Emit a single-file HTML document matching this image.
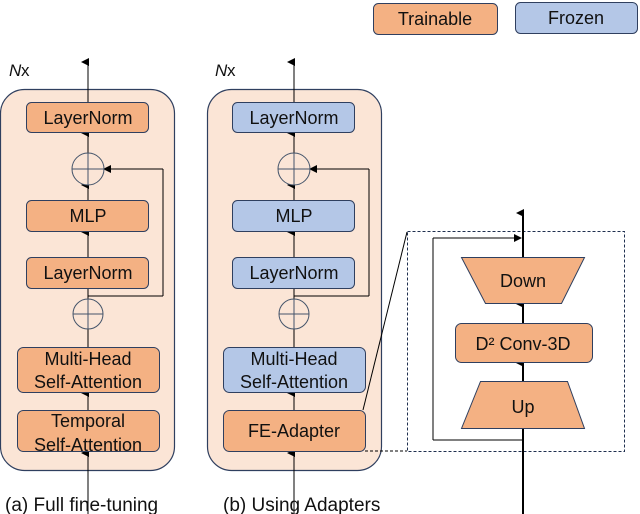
<!DOCTYPE html>
<html><head><meta charset="utf-8"><style>
html,body{margin:0;padding:0;background:#fff;width:640px;height:514px;overflow:hidden}
text{font-family:"Liberation Sans",sans-serif;fill:#111}
</style></head><body>
<svg width="640" height="514" viewBox="0 0 640 514" xmlns="http://www.w3.org/2000/svg">
<defs>
<marker id="a" markerWidth="8" markerHeight="8" refX="4" refY="7" orient="auto" markerUnits="userSpaceOnUse">
<path d="M0,8 L4,0 L8,8 z" fill="#000"/></marker>
<marker id="r" markerWidth="8" markerHeight="8" refX="7" refY="4" orient="auto" markerUnits="userSpaceOnUse">
<path d="M8,4 L0,0 L0,8 z" fill="#000"/></marker>
</defs>
<!-- legend -->
<rect x="373.5" y="3.5" width="124" height="31" rx="5" fill="#f4b183" stroke="#2f3f5f"/>
<text x="435" y="25" font-size="18" text-anchor="middle">Trainable</text>
<rect x="515.5" y="2.5" width="122" height="31" rx="5" fill="#b4c7e7" stroke="#2f3f5f"/>
<text x="576" y="24" font-size="18" text-anchor="middle">Frozen</text>

<g>
<text x="9" y="76" font-size="17" font-style="italic">N</text><text x="21" y="76" font-size="17">x</text>
<rect x="0.5" y="89.5" width="174" height="381" rx="24" fill="#fbe5d6" stroke="#2f3f5f" stroke-width="1.2"/>
<line x1="88" y1="514" x2="88" y2="453" stroke="#000" marker-end="url(#a)"/>
<line x1="88" y1="410" x2="88" y2="393" stroke="#000" marker-end="url(#a)"/>
<line x1="88" y1="347" x2="88" y2="329" stroke="#000"/>
<line x1="88" y1="299" x2="88" y2="289" stroke="#000"/>
<line x1="88" y1="296" x2="163" y2="296" stroke="#000"/>
<line x1="163" y1="296" x2="163" y2="169" stroke="#000"/>
<line x1="163" y1="169" x2="104" y2="169" stroke="#000" marker-end="url(#r)"/>
<line x1="88" y1="257" x2="88" y2="232" stroke="#000" marker-end="url(#a)"/>
<line x1="88" y1="200" x2="88" y2="185" stroke="#000" marker-end="url(#a)"/>
<line x1="88" y1="153" x2="88" y2="133" stroke="#000" marker-end="url(#a)"/>
<line x1="88" y1="102" x2="88" y2="62" stroke="#000" marker-end="url(#a)"/>
<circle cx="88" cy="169" r="16" fill="#fbe5d6" stroke="#44546a"/>
<path d="M72,169 H104 M88,153 V185" stroke="#44546a"/>
<circle cx="88" cy="314" r="15" fill="#fbe5d6" stroke="#44546a"/>
<path d="M73,314 H103 M88,299 V329" stroke="#44546a"/>
<rect x="26.5" y="102.5" width="122" height="30" rx="5" fill="#f4b183" stroke="#2f3f5f"/>
<text x="88" y="124" font-size="18" text-anchor="middle">LayerNorm</text>
<rect x="26.5" y="200.5" width="122" height="31" rx="5" fill="#f4b183" stroke="#2f3f5f"/>
<text x="88" y="222" font-size="18" text-anchor="middle">MLP</text>
<rect x="26.5" y="257.5" width="122" height="31" rx="5" fill="#f4b183" stroke="#2f3f5f"/>
<text x="88" y="279" font-size="18" text-anchor="middle">LayerNorm</text>
<rect x="17.5" y="347.5" width="142" height="45" rx="6" fill="#f4b183" stroke="#2f3f5f"/>
<text x="88" y="365" font-size="18" text-anchor="middle">Multi-Head</text>
<text x="88" y="388" font-size="18" text-anchor="middle">Self-Attention</text>
<rect x="17.5" y="410.5" width="142" height="41" rx="6" fill="#f4b183" stroke="#2f3f5f"/>
<text x="88" y="427" font-size="18" text-anchor="middle">Temporal</text>
<text x="88" y="451" font-size="18" text-anchor="middle">Self-Attention</text>
<text x="5" y="511" font-size="19">(a) Full fine-tuning</text>
</g>

<g>
<text x="215" y="76" font-size="17" font-style="italic">N</text><text x="227" y="76" font-size="17">x</text>
<rect x="207.5" y="89.5" width="174" height="381" rx="24" fill="#fbe5d6" stroke="#2f3f5f" stroke-width="1.2"/>
<line x1="294" y1="514" x2="294" y2="453" stroke="#000" marker-end="url(#a)"/>
<line x1="294" y1="410" x2="294" y2="393" stroke="#000" marker-end="url(#a)"/>
<line x1="294" y1="347" x2="294" y2="329" stroke="#000"/>
<line x1="294" y1="299" x2="294" y2="289" stroke="#000"/>
<line x1="294" y1="296" x2="369" y2="296" stroke="#000"/>
<line x1="369" y1="296" x2="369" y2="169" stroke="#000"/>
<line x1="369" y1="169" x2="310" y2="169" stroke="#000" marker-end="url(#r)"/>
<line x1="294" y1="257" x2="294" y2="232" stroke="#000" marker-end="url(#a)"/>
<line x1="294" y1="200" x2="294" y2="185" stroke="#000" marker-end="url(#a)"/>
<line x1="294" y1="153" x2="294" y2="133" stroke="#000" marker-end="url(#a)"/>
<line x1="294" y1="102" x2="294" y2="62" stroke="#000" marker-end="url(#a)"/>
<circle cx="294" cy="169" r="16" fill="#fbe5d6" stroke="#44546a"/>
<path d="M278,169 H310 M294,153 V185" stroke="#44546a"/>
<circle cx="294" cy="314" r="15" fill="#fbe5d6" stroke="#44546a"/>
<path d="M279,314 H309 M294,299 V329" stroke="#44546a"/>
<rect x="232.5" y="102.5" width="122" height="30" rx="5" fill="#b4c7e7" stroke="#2f3f5f"/>
<text x="294" y="124" font-size="18" text-anchor="middle">LayerNorm</text>
<rect x="232.5" y="200.5" width="122" height="31" rx="5" fill="#b4c7e7" stroke="#2f3f5f"/>
<text x="294" y="222" font-size="18" text-anchor="middle">MLP</text>
<rect x="232.5" y="257.5" width="122" height="31" rx="5" fill="#b4c7e7" stroke="#2f3f5f"/>
<text x="294" y="279" font-size="18" text-anchor="middle">LayerNorm</text>
<rect x="223.5" y="347.5" width="142" height="45" rx="6" fill="#b4c7e7" stroke="#2f3f5f"/>
<text x="294" y="365" font-size="18" text-anchor="middle">Multi-Head</text>
<text x="294" y="388" font-size="18" text-anchor="middle">Self-Attention</text>
<rect x="223.5" y="410.5" width="142" height="41" rx="6" fill="#f4b183" stroke="#2f3f5f"/>
<text x="294" y="437" font-size="18" text-anchor="middle">FE-Adapter</text>
<text x="223" y="511" font-size="19">(b) Using Adapters</text>
</g>

<!-- zoom lines -->
<line x1="363" y1="410" x2="407" y2="232" stroke="#000"/>
<line x1="365" y1="451" x2="407" y2="451" stroke="#000" stroke-dasharray="3,2"/>
<rect x="407.5" y="231.5" width="217" height="220" fill="none" stroke="#1f2f4f" stroke-dasharray="3,2"/>

<!-- adapter detail -->
<line x1="523" y1="514" x2="523" y2="429" stroke="#000" stroke-width="2"/>
<line x1="523" y1="440" x2="433" y2="440" stroke="#000"/>
<line x1="433" y1="440" x2="433" y2="238" stroke="#000"/>
<line x1="433" y1="238" x2="521" y2="238" stroke="#000" marker-end="url(#r)"/>
<line x1="523" y1="381" x2="523" y2="363" stroke="#000" stroke-width="2" marker-end="url(#a)"/>
<line x1="523" y1="323" x2="523" y2="304" stroke="#000" stroke-width="2" marker-end="url(#a)"/>
<line x1="523" y1="257" x2="523" y2="213" stroke="#000" stroke-width="2" marker-end="url(#a)"/>
<polygon points="461.5,257.5 584.5,257.5 561.5,303.5 485.5,303.5" fill="#f4b183" stroke="#2f3f5f"/>
<text x="523" y="287" font-size="18" text-anchor="middle">Down</text>
<rect x="455.5" y="323.5" width="137" height="39" rx="6" fill="#f4b183" stroke="#2f3f5f"/>
<text x="523" y="350" font-size="18" text-anchor="middle">D² Conv-3D</text>
<polygon points="480.5,381.5 567.5,381.5 584.5,428.5 461.5,428.5" fill="#f4b183" stroke="#2f3f5f"/>
<text x="523" y="413" font-size="18" text-anchor="middle">Up</text>
</svg>
</body></html>
